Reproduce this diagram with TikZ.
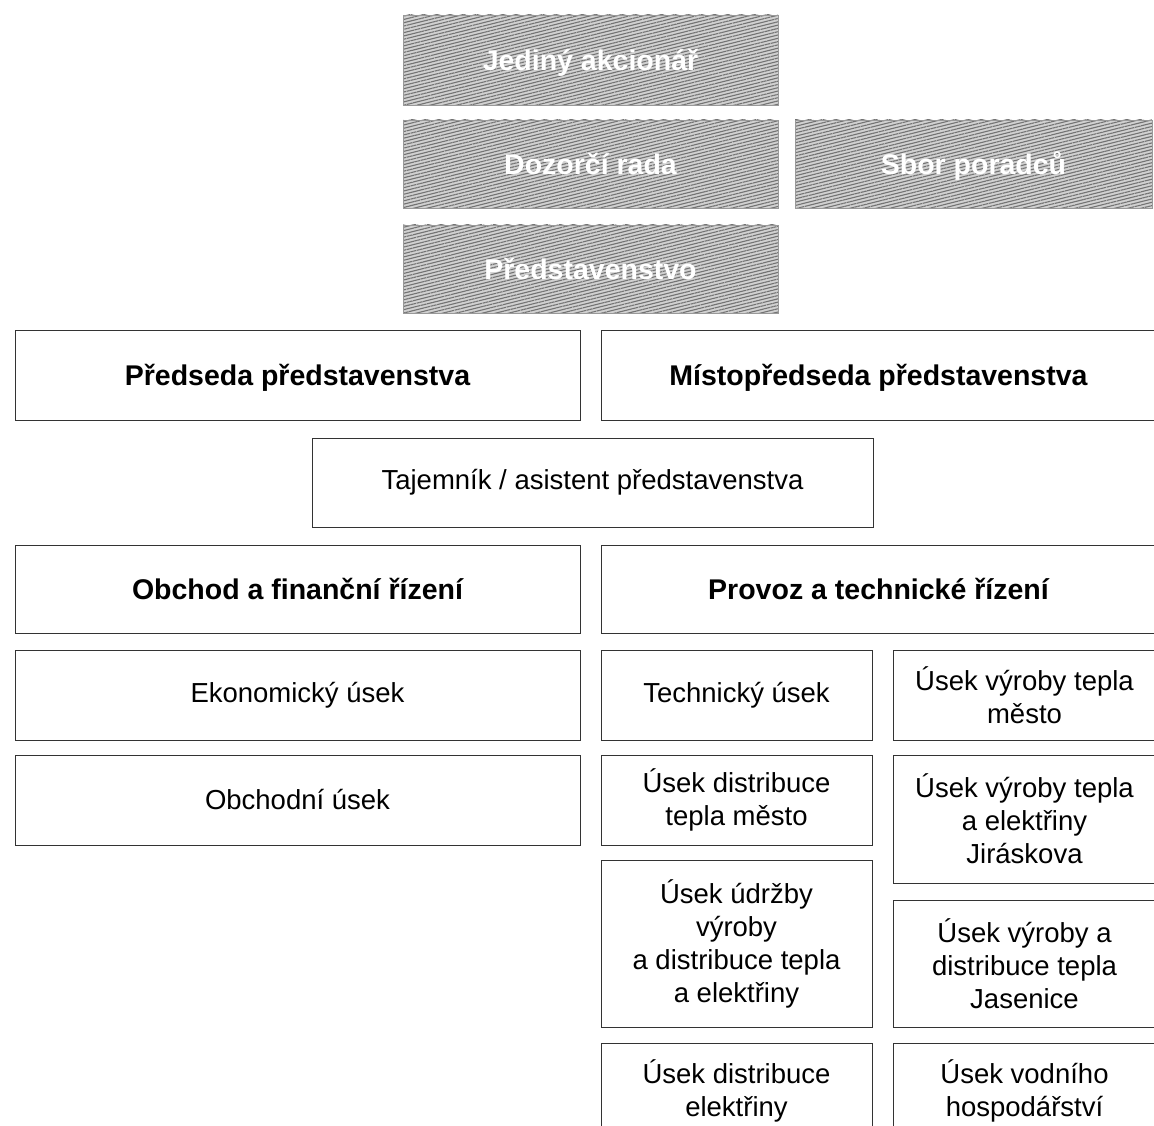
\documentclass[tikz,border=0pt]{standalone}
\usepackage{fontspec}
\usetikzlibrary{patterns.meta}
\setmainfont{Liberation Sans}
\newcommand{\unitsize}[0]{\fontsize{27.5}{33}\selectfont}
\newcommand{\headsize}[0]{\fontsize{28.5}{34}\selectfont\bfseries}

\begin{document}
\begin{tikzpicture}[x=1pt, y=-1pt]
  \tikzset{
    unit/.style={draw=black!80, line width=1pt, fill=white, inner sep=0pt,
      align=center, font=\unitsize},
    head/.style={unit, font=\headsize, text height=23pt, text depth=2pt},
    board/.style={preaction={fill=black!18},
      pattern={Lines[angle=14, distance=3.2pt, line width=1.1pt]}, pattern color=black!55,
      draw=black!40, line width=0.6pt, inner sep=0pt,
      text=white, font=\headsize, text height=23pt, text depth=2pt},
  }
  \useasboundingbox (0,0) rectangle (1154,1126);
  \clip (0,0) rectangle (1154,1126);
  % owners and boards
  \node[board, minimum width=375pt, minimum height=90pt] (akcionar) at (590.5,60) {Jediný akcionář};
  \node[board, minimum width=375pt, minimum height=88pt] (rada) at (590.5,164) {Dozorčí rada};
  \node[board, minimum width=357pt, minimum height=88pt] (sbor) at (973.5,164) {Sbor poradců};
  \node[board, minimum width=375pt, minimum height=88pt] (predstavenstvo) at (590.5,269) {Představenstvo};
  % management
  \node[head, minimum width=565pt, minimum height=90pt] (predseda) at (297.5,375) {Předseda představenstva};
  \node[head, minimum width=555pt, minimum height=90pt] (mistopredseda) at (878.5,375) {Místopředseda představenstva};
  \node[unit, minimum width=561pt, minimum height=89pt] (tajemnik) at (592.5,482.5) {Tajemník / asistent představenstva};
  \node[head, minimum width=565pt, minimum height=88pt] (obchod) at (297.5,589) {Obchod a finanční řízení};
  \node[head, minimum width=555pt, minimum height=88pt] (provoz) at (878.5,589) {Provoz a technické řízení};
  % trade branch
  \node[unit, minimum width=565pt, minimum height=90pt] (ekonom) at (297.5,695) {Ekonomický úsek};
  \node[unit, minimum width=565pt, minimum height=90pt] (obchodni) at (297.5,800) {Obchodní úsek};
  % operations branch
  \node[unit, minimum width=271pt, minimum height=90pt] (technicky) at (736.5,695) {Technický úsek};
  \node[unit, minimum width=263pt, minimum height=90pt] (vyrobamesto) at (1024.5,695) {Úsek výroby tepla\\město};
  \node[unit, minimum width=271pt, minimum height=90pt] (distrmesto) at (736.5,800) {Úsek distribuce\\tepla město};
  \node[unit, minimum width=263pt, minimum height=128pt] (jiraskova) at (1024.5,819) {Úsek výroby tepla\\a elektřiny\\Jiráskova};
  \node[unit, minimum width=271pt, minimum height=167pt] (udrzba) at (736.5,943.5) {Úsek údržby\\výroby\\a distribuce tepla\\a elektřiny};
  \node[unit, minimum width=263pt, minimum height=127pt] (jasenice) at (1024.5,963.5) {Úsek výroby a\\distribuce tepla\\Jasenice};
  \node[unit, minimum width=271pt, minimum height=95pt] (distrelektrina) at (736.5,1090.5) {Úsek distribuce\\elektřiny};
  \node[unit, minimum width=263pt, minimum height=95pt] (vodni) at (1024.5,1090.5) {Úsek vodního\\hospodářství};
\end{tikzpicture}
\end{document}
